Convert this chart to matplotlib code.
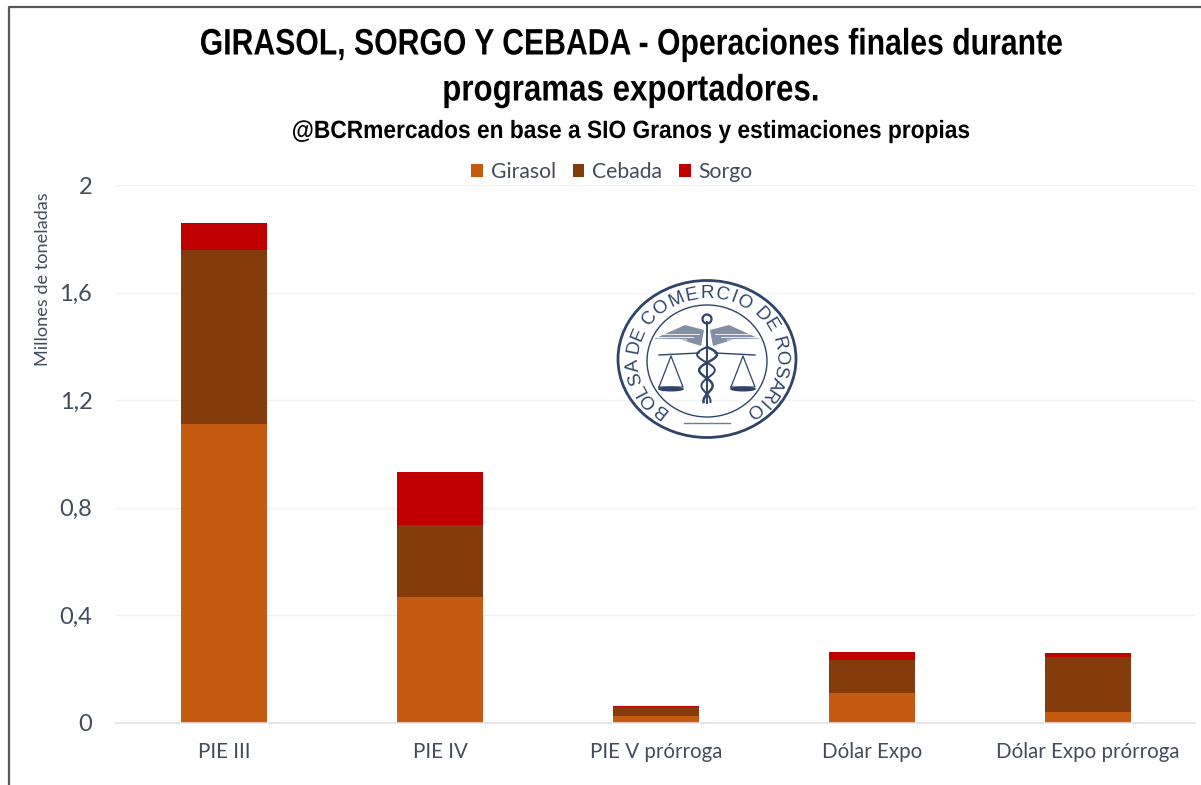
import numpy as np
import matplotlib
matplotlib.use("Agg")
import matplotlib.pyplot as plt
from matplotlib.font_manager import FontProperties
from matplotlib.patches import Ellipse, Polygon
from matplotlib.patheffects import AbstractPathEffect
from matplotlib.textpath import TextToPath
from matplotlib.transforms import Affine2D

categories = ["PIE III", "PIE IV", "PIE V prórroga", "Dólar Expo", "Dólar Expo prórroga"]
girasol = [1.11, 0.467, 0.024, 0.11, 0.04]
cebada = [0.648, 0.268, 0.032, 0.123, 0.205]
sorgo = [0.10, 0.197, 0.005, 0.029, 0.013]
ytick_values = [0, 0.4, 0.8, 1.2, 1.6, 2]
ytick_labels = ["0", "0,4", "0,8", "1,2", "1,6", "2"]

W, H = 1201, 785
fig = plt.figure(figsize=(W / 100, H / 100), dpi=100, facecolor="white")
heavy = ["Liberation Sans", "DejaVu Sans"]
body = ["Lato", "Open Sans", "DejaVu Sans"]
slate = "#434C5A"


class Condense(AbstractPathEffect):
    """Narrow a text horizontally about a fixed pixel column."""
    def __init__(self, sx, cx_px):
        super().__init__()
        self.sx, self.cx_px = sx, cx_px

    def draw_path(self, renderer, gc, tpath, affine, rgbFace=None):
        squeeze = Affine2D().translate(-self.cx_px, 0).scale(self.sx, 1).translate(self.cx_px, 0)
        renderer.draw_path(gc, tpath, affine + squeeze, rgbFace)


ax = fig.add_axes([116 / W, 1 - 722.5 / H, (1195 - 116) / W, (722.5 - 185) / H])
x = np.arange(len(categories))
g, c, s = map(np.array, (girasol, cebada, sorgo))
ax.bar(x, g, 0.4, color="#C55A11", label="Girasol", zorder=2)
ax.bar(x, c, 0.4, bottom=g, color="#843C0C", label="Cebada", zorder=2)
ax.bar(x, s, 0.4, bottom=g + c, color="#C00000", label="Sorgo", zorder=2)
ax.set_xlim(-0.5, 4.495)
ax.set_ylim(0, 2)
ax.set_yticks(ytick_values, ytick_labels, fontsize=17, color=slate, family=body)
ax.set_xticks(x, categories, fontsize=14.8, color=slate, family=body)
ax.tick_params(length=0)
ax.tick_params(axis="y", pad=17)
ax.tick_params(axis="x", pad=14)
ax.grid(axis="y", color="#F2F2F2", lw=1, zorder=0)
for sp in ("top", "left", "right"):
    ax.spines[sp].set_visible(False)
ax.spines["bottom"].set_color("#E3E3E3")
ax.spines["bottom"].set_linewidth(1.2)
ax.set_axisbelow(True)

fig.text(43 / W, 1 - 279 / H, "Millones de toneladas", rotation=90, ha="center", va="center",
         fontsize=13.1, color=slate, family=body)

for label, xc, yc, size, sx in [
    ("GIRASOL, SORGO Y CEBADA - Operaciones finales durante", 630.5, 45, 26.5, 0.82),
    ("programas exportadores.", 630.5, 91, 26.5, 0.85),
    ("@BCRmercados en base a SIO Granos y estimaciones propias", 631, 131, 18, 0.91),
]:
    t = fig.text(xc / W, 1 - yc / H, label, ha="center", va="center", fontsize=size,
                 fontweight="bold", family=heavy, color="black")
    t.set_path_effects([Condense(sx, xc)])

leg = fig.legend(loc="center", bbox_to_anchor=(612 / W, 1 - 172 / H), ncol=3, frameon=False,
                 handlelength=0.55, handleheight=0.55, handletextpad=0.37,
                 columnspacing=0.8, prop={"family": body, "size": 15.2})
for t in leg.get_texts():
    t.set_color(slate)

# Overlay in pixel coordinates: image frame and institutional seal
ov = fig.add_axes([0, 0, 1, 1], facecolor="none")
ov.set_xlim(0, W)
ov.set_ylim(H, 0)
ov.axis("off")
ov.plot([9, 9, W], [H, 7, 7], color="#5A5A5A", lw=1.6)

navy = "#2F4468"
cx, cy = 707, 359
ov.add_patch(Ellipse((cx, cy), 178, 157, fill=False, ec=navy, lw=2.0))
ov.add_patch(Ellipse((cx, cy + 2), 120, 112, fill=False, ec=navy, lw=1.0))
ov.plot([cx - 23, cx + 23], [423, 423], color=navy, lw=1, alpha=.7)
seal = "BOLSA DE COMERCIO DE ROSARIO"
fp = FontProperties(family="Liberation Sans", size=13.5)
ttp = TextToPath()
adv = np.array([ttp.get_text_width_height_descent(ch, fp, False)[0] if ch != " "
                else 0.3 * 13.5 for ch in seal])
mid = np.cumsum(adv) - adv / 2
angles = -141 + 282 * (mid - mid[0]) / (mid[-1] - mid[0])
for ch, a in zip(seal, angles):
    r = np.radians(a)
    ov.text(cx + 74 * np.sin(r), cy - 65 * np.cos(r), ch, rotation=-a, rotation_mode="anchor",
            ha="center", va="center", fontproperties=fp, color=navy)
# caduceus staff, wings, snake
ov.plot([cx, cx], [322, 403], color=navy, lw=1.4)
ov.add_patch(Ellipse((cx, 319), 9, 9, fill=False, ec=navy, lw=1.6))
for sgn in (-1, 1):
    ov.add_patch(Polygon([(cx + sgn * 3, 330), (cx + sgn * 22, 325), (cx + sgn * 53, 339),
                          (cx + sgn * 28, 339), (cx + sgn * 6, 346)], color=navy, alpha=.6, lw=0))
    for off, end in zip((8, 14, 20), (334, 337, 339)):
        ov.plot([cx + sgn * off, cx + sgn * 50], [330 + off / 2, end], color="white", lw=0.6)
    # balance pans
    px = cx + sgn * 36
    ov.plot([cx + sgn * 8, px + sgn * 12], [353, 355], color=navy, lw=1)
    ov.plot([px - 12, px, px + 12, px - 12], [387, 356, 387, 387], color=navy, lw=0.9)
    ov.add_patch(Ellipse((px, 389), 26, 5, color=navy, lw=0))
ty = np.linspace(347, 402, 60)
ov.plot(cx + 11 * np.sin((ty - 347) / 5) * (1 - (ty - 347) / 80), ty, color=navy, lw=1.8)
ov.plot(cx - 11 * np.sin((ty - 347) / 5) * (1 - (ty - 347) / 80), ty, color=navy, lw=1.4)

fig.savefig("out.png", dpi=100, facecolor="white")
